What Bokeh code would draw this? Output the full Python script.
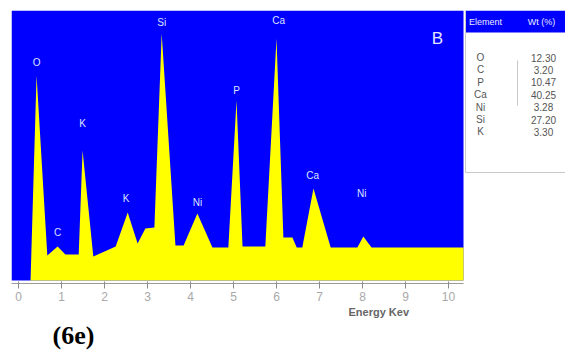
from bokeh.plotting import figure
from bokeh.models import Range1d, FixedTicker, Label, ColumnDataSource, Title
from bokeh.core.properties import value
from bokeh.embed import file_html
from bokeh.resources import INLINE

# spectrum (energy keV, counts in arbitrary units)
energy = [0.28, 0.42, 0.67, 0.91, 1.09, 1.40, 1.49, 1.74, 2.26, 2.54, 2.77, 2.95,
          3.16, 3.33, 3.65, 3.84, 4.16, 4.51, 4.88, 5.07, 5.21, 5.74, 6.00, 6.16,
          6.37, 6.47, 6.60, 6.86, 7.26, 7.88, 8.02, 8.21, 10.35]
counts = [0, 205, 25, 34, 26, 26, 130, 24, 34, 68, 37, 52,
          53, 247, 35, 35, 67, 33, 33, 180, 34, 34, 242, 43,
          43, 33, 33, 92, 33, 33, 44, 33, 33]

peak_names = ["O", "C", "K", "K", "Si", "Ni", "P", "Ca", "Ca", "Ni"]
peak_x = [0.42, 0.91, 1.49, 2.50, 3.33, 4.16, 5.07, 6.05, 6.84, 7.98]
peak_y = [218, 48, 157, 82, 258, 78, 190, 260, 105, 87]

tick_vals = [0, 1, 2, 3, 4, 5, 6, 7, 8, 9, 10]

table_elements = ["O", "C", "P", "Ca", "Ni", "Si", "K"]
table_wt = ["12.30", "3.20", "10.47", "40.25", "3.28", "27.20", "3.30"]

BLUE = "#0000FF"
YELLOW = "#FFFF00"
FONT = "Liberation Sans"

# geometry (px -> data helpers)
PX0, PXU = 18.0, 43.0          # pixel of 0 keV, pixels per keV
def ex(px):
    return (px - PX0) / PXU
def cy(py):
    return 280.0 - py

p = figure(frame_width=554, frame_height=273,
           x_range=Range1d(ex(11), ex(565)), y_range=Range1d(cy(283), cy(10)),
           output_backend="svg", toolbar_location=None,
           min_border_left=11, min_border_right=0, min_border_top=10, min_border_bottom=0)
p.background_fill_color = "white"
p.border_fill_color = "white"
p.outline_line_color = None
p.grid.visible = False
p.yaxis.visible = False

# blue background panel
p.quad(left=[ex(11)], right=[ex(463)], bottom=[0], top=[cy(10)],
       fill_color=BLUE, line_color=None)
# spectrum
p.varea(x=energy, y1=[0] * len(energy), y2=counts, fill_color=YELLOW)

# peak labels
src = ColumnDataSource(dict(x=peak_x, y=peak_y, t=peak_names))
p.text(x="x", y="y", text="t", source=src, text_color="#DDE4FF",
       text_font_size="10px", text_align="center", text_baseline="middle",
       text_font=value(FONT))

p.add_layout(Label(x=ex(437), y=cy(38), text="B", text_color="#E4E6FF",
                   text_font_size="17px", text_align="center", text_baseline="middle",
                   text_font=FONT))

# axis
ax = p.xaxis[0]
ax.ticker = FixedTicker(ticks=tick_vals)
ax.bounds = (ex(11), ex(463))
ax.axis_line_color = "#9a9a9a"
ax.major_tick_line_color = "#8a8a8a"
ax.major_tick_in = 2
ax.major_tick_out = 5
ax.minor_tick_line_color = None
ax.major_label_text_color = "#a8a8a8"
ax.major_label_text_font = FONT
ax.major_label_text_font_size = "12px"
ax.major_label_standoff = 3

# table
tl, tr = ex(465), ex(565)
p.quad(left=[tl], right=[tr], bottom=[cy(32)], top=[cy(10)],
       fill_color=BLUE, line_color=None)
p.segment(x0=[tl, tl, ex(517)], y0=[cy(10), cy(172), cy(60)],
          x1=[tl, tr, ex(517)], y1=[cy(172), cy(172), cy(105)],
          line_color="#c8c8c8", line_width=1)
p.add_layout(Label(x=ex(485), y=cy(21), text="Element", text_color="#E8ECFF",
                   text_font_size="9px", text_align="center", text_baseline="middle",
                   text_font=FONT))
p.add_layout(Label(x=ex(541), y=cy(21), text="Wt (%)", text_color="#E8ECFF",
                   text_font_size="9px", text_align="center", text_baseline="middle",
                   text_font=FONT))
row_y = [cy(57 + i * 12.4) for i in range(len(table_elements))]
tsrc = ColumnDataSource(dict(e=table_elements, w=table_wt, y=row_y,
                             xe=[ex(480)] * len(row_y), xw=[ex(543)] * len(row_y)))
p.text(x="xe", y="y", text="e", source=tsrc, text_color="#555555",
       text_font_size="10px", text_align="center", text_baseline="middle",
       text_font=value(FONT))
p.text(x="xw", y="y", text="w", source=tsrc, text_color="#555555",
       text_font_size="10px", text_align="center", text_baseline="middle",
       text_font=value(FONT))

# labels below axis
t1 = Title(text="Energy Kev", align="left", offset=337, standoff=0,
           text_color="#666666", text_font_size="11px", text_font_style="bold",
           text_font=FONT)
t2 = Title(text="(6e)", align="left", offset=41, standoff=3,
           text_color="#000000", text_font_size="26px", text_font_style="bold",
           text_font="Liberation Serif")
p.add_layout(t1, "below")
p.add_layout(t2, "below")

open("out.html", "w").write(file_html(p, INLINE))
